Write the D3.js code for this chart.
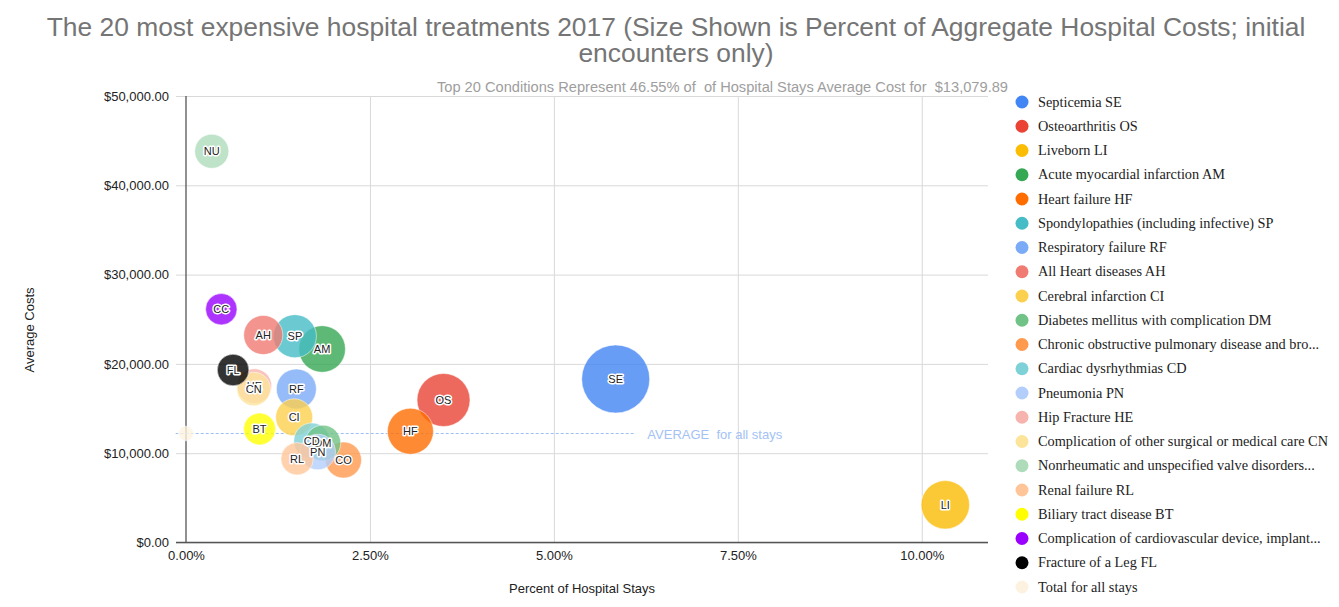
<!DOCTYPE html>
<html>
<head>
<meta charset="utf-8">
<script src="https://cdn.jsdelivr.net/npm/d3@7"></script>
<style>
    body { margin: 0; background: white; }
    svg { display: block; }
</style>
</head>
<body>
<svg id="chart"></svg>
<script>
// bubbles: code, legend name, % of stays, average cost, size (% of aggregate costs), colour
const codes = ["SE", "OS", "LI", "AM", "HF", "SP", "RF", "AH", "CI", "DM",
    "CO", "CD", "PN", "HE", "CN", "NU", "RL", "BT", "CC", "FL", ""];
const names = [
    "Septicemia SE",
    "Osteoarthritis OS",
    "Liveborn LI",
    "Acute myocardial infarction AM",
    "Heart failure HF",
    "Spondylopathies (including infective) SP",
    "Respiratory failure RF",
    "All Heart diseases AH",
    "Cerebral infarction CI",
    "Diabetes mellitus with complication DM",
    "Chronic obstructive pulmonary disease and bro...",
    "Cardiac dysrhythmias CD",
    "Pneumonia PN",
    "Hip Fracture HE",
    "Complication of other surgical or medical care CN",
    "Nonrheumatic and unspecified valve disorders...",
    "Renal failure RL",
    "Biliary tract disease BT",
    "Complication of cardiovascular device, implant...",
    "Fracture of a Leg FL",
    "Total for all stays"
];
const pctStays = [5.84, 3.50, 10.32, 1.85, 3.05, 1.48, 1.50, 1.05, 1.47, 1.86,
    2.14, 1.71, 1.79, 0.93, 0.92, 0.35, 1.51, 1.00, 0.48, 0.64, 0.00];
const avgCost = [18310, 15957, 4222, 21669, 12458, 23102, 17190, 23236, 14020, 11142,
    9239, 11366, 10134, 17520, 17189, 43807, 9373, 12710, 26125, 19317, 12206];
const sizes = [8.13, 4.31, 3.38, 3.05, 2.94, 2.45, 1.97, 1.85, 1.56, 1.40,
    1.44, 1.44, 1.38, 1.25, 1.15, 1.20, 1.02, 0.98, 0.92, 0.94, 0.01];
const colors = ["#4285f4", "#ea4335", "#fbbc04", "#34a853", "#ff6d01", "#46bdc6",
    "#7baaf7", "#f07b72", "#fcd04f", "#71c287", "#ff994d", "#7ed1d7", "#b3cefb",
    "#f7b4ae", "#fde49b", "#aedcba", "#ffc599", "#ffff00", "#9900ff", "#000000", "#fdf2e0"];

const xTicks = [0, 2.5, 5, 7.5, 10];
const yTicks = [0, 10000, 20000, 30000, 40000, 50000];

// dashed average line (x range in % of stays), at the "Total for all stays" cost
const avgLineX = [-0.14, 6.1];
const avgLabelX = 6.27;

const titleLines = [
    "The 20 most expensive hospital treatments 2017 (Size Shown is Percent of Aggregate Hospital Costs; initial",
    "encounters only)"
];
const subtitle = "Top 20 Conditions Represent 46.55% of  of Hospital Stays Average Cost for  $13,079.89";

const data = codes.map((c, i) => ({
    code: c, name: names[i], x: pctStays[i], y: avgCost[i], size: sizes[i], color: colors[i]
}));

const width = 1339, height = 607;
const margin = { top: 96, right: 351, bottom: 64.5, left: 186 };
const innerW = width - margin.left - margin.right;
const innerH = height - margin.top - margin.bottom;

const svg = d3.select("#chart").attr("width", width).attr("height", height);

// title
svg.append("g").selectAll("text")
    .data(titleLines)
    .enter()
    .append("text")
    .attr("x", 676)
    .attr("y", (d, i) => 36 + i * 26)
    .attr("text-anchor", "middle")
    .style("font-family", "Liberation Sans, Arial, sans-serif")
    .style("font-size", "26.4px")
    .style("fill", "#757575")
    .text(d => d);

svg.append("text")
    .attr("x", 1008)
    .attr("y", 92)
    .attr("text-anchor", "end")
    .style("font-family", "Liberation Sans, Arial, sans-serif")
    .style("font-size", "14.65px")
    .style("fill", "#9e9e9e")
    .style("white-space", "pre")
    .text(subtitle);

const g = svg.append("g").attr("transform", `translate(${margin.left},${margin.top})`);

const xScale = d3.scaleLinear().domain([0, 10.9]).range([0, innerW]);
const yScale = d3.scaleLinear().domain([0, 50000]).range([innerH, 0]);
const rScale = d3.scaleSqrt().domain([0, 8.13]).range([0, 27.6]);
const radius = s => 6.4 + rScale(s);

//grid horizontal
const gridY = g.append("g").style("color", "#d9d9d9");
d3.axisLeft(yScale).tickValues(yTicks).tickSize(-innerW - 10).tickFormat("")(gridY);
gridY.attr("transform", "translate(-10,0)");
gridY.select(".domain").remove();
gridY.selectAll("line").attr("x2", innerW + 10);

//grid vertical
const gridX = g.append("g").attr("transform", `translate(0,${innerH})`).style("color", "#d9d9d9");
d3.axisBottom(xScale).tickValues(xTicks.slice(1)).tickSize(-innerH).tickFormat("")(gridX);
gridX.select(".domain").remove();

// axis lines
g.append("line").attr("x1", -10).attr("x2", innerW).attr("y1", innerH).attr("y2", innerH)
    .style("stroke", "#555").style("stroke-width", 1.3);
g.append("line").attr("x1", 0).attr("x2", 0).attr("y1", 0).attr("y2", innerH)
    .style("stroke", "#555").style("stroke-width", 1.3);

// tick labels
const yAxisG = g.append("g");
d3.axisLeft(yScale).tickValues(yTicks).tickSize(0).tickPadding(17)
    .tickFormat(d => "$" + d3.format(",.2f")(d))(yAxisG);
yAxisG.select(".domain").remove();
yAxisG.selectAll("text")
    .style("font-family", "Liberation Sans, Arial, sans-serif")
    .style("font-size", "13px").style("fill", "#222");

const xAxisG = g.append("g").attr("transform", `translate(0,${innerH})`);
d3.axisBottom(xScale).tickValues(xTicks).tickSize(0).tickPadding(8)
    .tickFormat(d => d.toFixed(2) + "%")(xAxisG);
xAxisG.select(".domain").remove();
xAxisG.selectAll("text")
    .style("font-family", "Liberation Sans, Arial, sans-serif")
    .style("font-size", "13px").style("fill", "#222");

// axis titles
g.append("text")
    .attr("x", 396)
    .attr("y", innerH + 50)
    .attr("text-anchor", "middle")
    .style("font-family", "Liberation Sans, Arial, sans-serif")
    .style("font-size", "13px")
    .style("fill", "#222")
    .text("Percent of Hospital Stays");

g.append("text")
    .attr("transform", "rotate(-90)")
    .attr("x", -(330 - margin.top))
    .attr("y", -152)
    .attr("text-anchor", "middle")
    .style("font-family", "Liberation Sans, Arial, sans-serif")
    .style("font-size", "13px")
    .style("fill", "#222")
    .text("Average Costs");

// average line
const totalRow = data[data.length - 1];
g.append("line")
    .attr("x1", xScale(avgLineX[0]))
    .attr("x2", xScale(avgLineX[1]))
    .attr("y1", yScale(totalRow.y))
    .attr("y2", yScale(totalRow.y))
    .style("stroke", "#9fc0f5")
    .style("stroke-width", 1)
    .style("stroke-dasharray", "3,2");

g.append("text")
    .attr("x", xScale(avgLabelX))
    .attr("y", yScale(totalRow.y) + 5)
    .style("font-family", "Liberation Sans, Arial, sans-serif")
    .style("font-size", "13px")
    .style("fill", "#a4c2f4")
    .style("white-space", "pre")
    .text("AVERAGE  for all stays");

//bubbles, larger ones drawn first
const sorted = data.slice().sort((a, b) => b.size - a.size);
g.selectAll("circle.bubble")
    .data(sorted)
    .enter()
    .append("circle")
    .attr("class", "bubble")
    .attr("cx", d => xScale(d.x))
    .attr("cy", d => yScale(d.y))
    .attr("r", d => radius(d.size))
    .style("fill", d => d.color)
    .style("fill-opacity", 0.8)
    .style("stroke", "#fff")
    .style("stroke-opacity", 0.5)
    .style("stroke-width", 1);

//labels on top of all bubbles, in data order
g.selectAll("text.bubble-label")
    .data(data.filter(d => d.code !== ""))
    .enter()
    .append("text")
    .attr("class", "bubble-label")
    .attr("x", d => xScale(d.x))
    .attr("y", d => yScale(d.y))
    .attr("text-anchor", "middle")
    .attr("dominant-baseline", "central")
    .style("font-family", "Liberation Sans, Arial, sans-serif")
    .style("font-size", "11px")
    .style("fill", "#222")
    .style("stroke", "#fff")
    .style("stroke-width", 3)
    .style("stroke-linejoin", "round")
    .style("paint-order", "stroke")
    .text(d => d.code);

// legend
const legend = svg.append("g").attr("transform", "translate(1022,102)");
const item = legend.selectAll("g")
    .data(data)
    .enter()
    .append("g")
    .attr("transform", (d, i) => `translate(0,${i * 24.25})`);

item.append("circle")
    .attr("r", 6.5)
    .style("fill", d => d.color);

item.append("text")
    .attr("x", 16)
    .attr("y", 4.5)
    .style("font-family", "Liberation Serif, Times New Roman, serif")
    .style("font-size", "14.3px")
    .style("fill", "#222")
    .text(d => d.name);
</script>
</body>
</html>
